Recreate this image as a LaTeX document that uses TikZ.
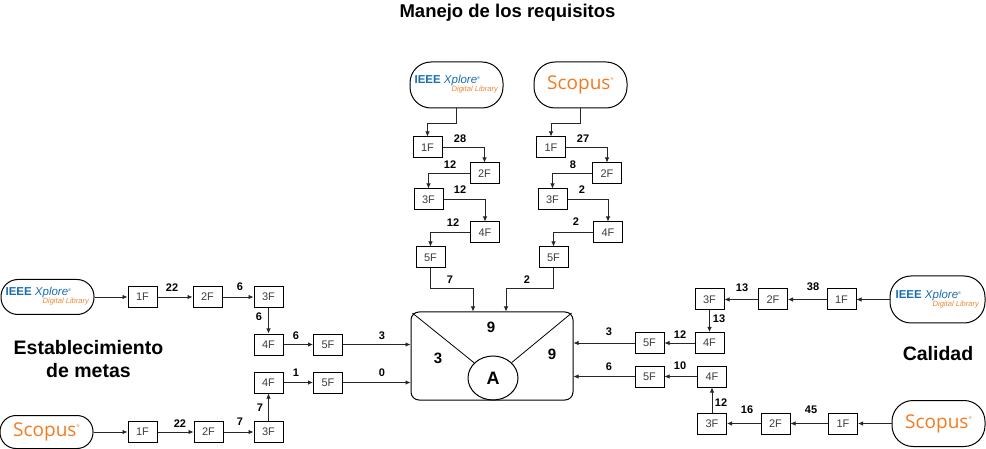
\documentclass[tikz,border=0pt]{standalone}
\usepackage{fontspec}
\setmainfont{Liberation Sans}
\newfontfamily\scfont{Open Sans}
\usetikzlibrary{calc, positioning, shapes.geometric, arrows.meta}
\definecolor{ieblue}{RGB}{25,110,175}
\definecolor{ieorange}{RGB}{240,135,50}
\definecolor{scorange}{RGB}{243,122,32}
\definecolor{txgray}{RGB}{60,60,60}
\newcommand{\ieeelogo}{\begin{tabular}{@{}l@{}}{\color{ieblue}\fontsize{11.5}{11.5}\selectfont\textbf{IEEE} \textit{Xplore}\raisebox{4pt}{\fontsize{4}{4}\selectfont ®}}\\[-5pt]\hspace{37pt}{\color{ieorange}\fontsize{7.6}{7.6}\selectfont\textit{Digital Library}}\end{tabular}}
\newcommand{\scopuslogo}{{\scfont\color{scorange}\fontsize{19}{19}\selectfont Scopus\raisebox{9pt}{\fontsize{4}{4}\selectfont ®}}}

\begin{document}
\begin{tikzpicture}[x=1pt, y=-1pt,
                every node/.style={font=\fontsize{11}{13}\selectfont},
                bx/.style={draw, line width=1pt, minimum width=29pt, minimum height=21pt, inner sep=0pt, text=txgray},
                lg/.style={draw, line width=1pt, rounded corners=21pt, minimum width=93pt, minimum height=46pt, inner sep=0pt},
                nm/.style={font=\fontsize{11}{13}\selectfont\bfseries, inner sep=0pt},
                vl/.style={font=\fontsize{15}{15}\selectfont\bfseries, inner sep=0pt},
                ar/.style={-{Latex[length=5pt, width=4.5pt]}, line width=0.8pt, black!85},
                hd/.style={font=\fontsize{19.5}{23}\selectfont\bfseries, align=center}]

    \useasboundingbox (0,0) rectangle (986,449); % same size as the reference

    \node [hd, font=\fontsize{18.5}{22}\selectfont\bfseries] (tit) at (507.5,12.5) {Manejo de los requisitos};
    \node [hd] (hL) at (88.5,359.5) {Establecimiento\\de metas};
    \node [hd] (hR) at (938,354) {Calidad};

    % central box
    \node [draw, line width=1pt, rounded corners=8pt, minimum width=162pt, minimum height=88pt] (box) at (492,356) {};
    \node [ellipse, draw, line width=1pt, minimum width=50pt, minimum height=44pt, inner sep=0pt,
           font=\fontsize{18}{18}\selectfont\bfseries] (A) at (493,378) {A};
    \draw [line width=0.8pt, shorten <=2.5pt] (box.north west) -- (A);
    \draw [line width=0.8pt, shorten <=2.5pt] (box.north east) -- (A);
    \node [vl] (v1) at (491,327) {9};
    \node [vl] (v2) at (438,358) {3};
    \node [vl] (v3) at (552,354) {9};

    % top
    \node [lg] (ieT) at (456.5,85)  {\ieeelogo};
    \node [lg] (scT) at (580.5,85)  {\scopuslogo};
    \node [bx] (t1) at (427.5,147.5) {1F};
    \node [bx] (t2) at (484.5,173.5) {2F};
    \node [bx] (t3) at (428.5,199.5) {3F};
    \node [bx] (t4) at (485,232.5)   {4F};
    \node [bx] (t5) at (430.5,257.5) {5F};
    \node [bx] (s1) at (551,147.5)   {1F};
    \node [bx] (s2) at (607,173.5)   {2F};
    \node [bx] (s3) at (552.5,199.5) {3F};
    \node [bx] (s4) at (608,232.5)   {4F};
    \node [bx] (s5) at (553.5,257.5) {5F};
    \coordinate (jA) at (473,288);
    \coordinate (jB) at (506,288);

    \draw [ar] (ieT.south) -- ++(0,15) -| (t1.north);
    \draw [ar] (t1.east) -| (t2.north);
    \draw [ar] (t2.west) -| (t3.north);
    \draw [ar] (t3.east) -| (t4.north);
    \draw [ar] (t4.west) -| (t5.north);
    \draw [ar] (t5.south) |- (jA) -- (jA |- box.north);
    \draw [ar] (scT.south) -- ++(0,15) -| (s1.north);
    \draw [ar] (s1.east) -| (s2.north);
    \draw [ar] (s2.west) -| (s3.north);
    \draw [ar] (s3.east) -| (s4.north);
    \draw [ar] (s4.west) -| (s5.north);
    \draw [ar] (s5.south) |- (jB) -- (jB |- box.north);

    \node [nm] (nt1) at (460,139) {28};
    \node [nm] (nt2) at (450,165) {12};
    \node [nm] (nt3) at (460,190) {12};
    \node [nm] (nt4) at (453,223) {12};
    \node [nm] (nt5) at (450,280) {7};
    \node [nm] (ns1) at (583,139) {27};
    \node [nm] (ns2) at (573,165) {8};
    \node [nm] (ns3) at (582,190) {2};
    \node [nm] (ns4) at (576,222) {2};
    \node [nm] (ns5) at (527,280) {2};

    % left
    \node [lg, minimum height=35pt, rounded corners=17pt] (ieL) at (47.5,297) {\ieeelogo};
    \node [lg, minimum height=33pt, rounded corners=16pt] (scL) at (46.5,432) {\scopuslogo};
    \node [bx] (l1) at (142.5,297) {1F};
    \node [bx] (l2) at (207.5,297) {2F};
    \node [bx] (l3) at (268.5,297) {3F};
    \node [bx] (l4) at (268.5,344.5) {4F};
    \node [bx] (l5) at (328,344.5)   {5F};
    \node [bx] (m1) at (142.5,432) {1F};
    \node [bx] (m2) at (208.5,432) {2F};
    \node [bx] (m3) at (268.5,432) {3F};
    \node [bx] (m4) at (268.5,382.5) {4F};
    \node [bx] (m5) at (328,382.5)   {5F};

    \draw [ar] (ieL) -- (l1);
    \draw [ar] (l1) -- (l2);
    \draw [ar] (l2) -- (l3);
    \draw [ar] (l3) -- (l4);
    \draw [ar] (l4) -- (l5);
    \draw [ar] (l5.east) -- (l5.east -| box.west);
    \draw [ar] (scL) -- (m1);
    \draw [ar] (m1) -- (m2);
    \draw [ar] (m2) -- (m3);
    \draw [ar] (m3) -- (m4);
    \draw [ar] (m4) -- (m5);
    \draw [ar] (m5.east) -- (m5.east -| box.west);

    \node [nm] (nl1) at (172,288) {22};
    \node [nm] (nl2) at (240,287) {6};
    \node [nm] (nl3) at (259,317) {6};
    \node [nm] (nl4) at (296,336) {6};
    \node [nm] (nl5) at (382,336) {3};
    \node [nm] (nm1) at (180,424) {22};
    \node [nm] (nm2) at (240,422) {7};
    \node [nm] (nm3) at (260,408) {7};
    \node [nm] (nm4) at (296,373) {1};
    \node [nm] (nm5) at (382,373) {0};

    % right
    \node [lg, minimum width=95pt, minimum height=47pt] (ieR) at (937.5,299.5) {\ieeelogo};
    \node [lg] (scR) at (938.5,423.5) {\scopuslogo};
    \node [bx] (r1) at (841.5,299.5) {1F};
    \node [bx] (r2) at (773,299.5)   {2F};
    \node [bx] (r3) at (709.5,299.5) {3F};
    \node [bx] (r4) at (709.5,343)   {4F};
    \node [bx] (r5) at (649.5,343)   {5F};
    \node [bx] (q1) at (843,423.5)   {1F};
    \node [bx] (q2) at (775.5,423.5) {2F};
    \node [bx] (q3) at (712,423.5)   {3F};
    \node [bx] (q4) at (712,376.5)   {4F};
    \node [bx] (q5) at (649.5,376.5) {5F};

    \draw [ar] (ieR) -- (r1);
    \draw [ar] (r1) -- (r2);
    \draw [ar] (r2) -- (r3);
    \draw [ar] (r3) -- (r4);
    \draw [ar] (r4) -- (r5);
    \draw [ar] (r5.west) -- (r5.west -| box.east);
    \draw [ar] (scR) -- (q1);
    \draw [ar] (q1) -- (q2);
    \draw [ar] (q2) -- (q3);
    \draw [ar] (q3) -- (q4);
    \draw [ar] (q4) -- (q5);
    \draw [ar] (q5.west) -- (q5.west -| box.east);

    \node [nm] (nr1) at (813,287) {38};
    \node [nm] (nr2) at (742,288) {13};
    \node [nm] (nr3) at (719,319) {13};
    \node [nm] (nr4) at (680,335) {12};
    \node [nm] (nr5) at (609,332) {3};
    \node [nm] (nq1) at (811,410) {45};
    \node [nm] (nq2) at (747,410) {16};
    \node [nm] (nq3) at (721,403) {12};
    \node [nm] (nq4) at (680,366) {10};
    \node [nm] (nq5) at (609,367) {6};

\end{tikzpicture}
\end{document}
